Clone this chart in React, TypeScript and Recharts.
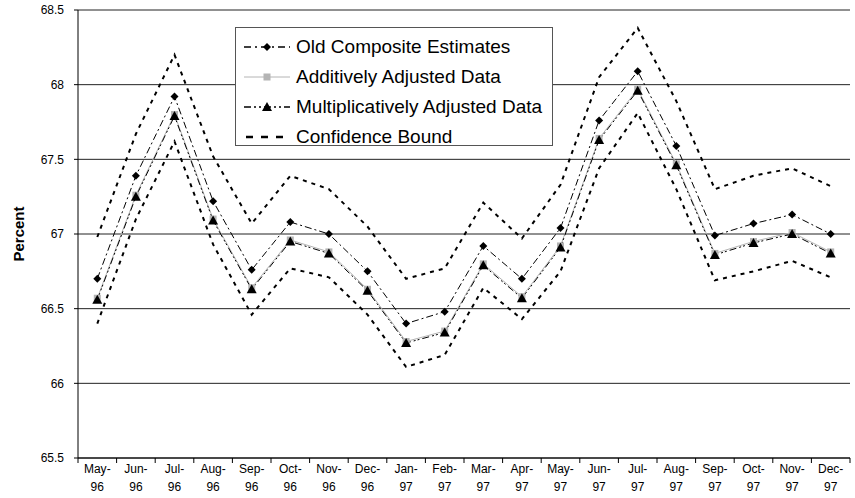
import { LineChart, Line, XAxis, YAxis, CartesianGrid } from "recharts";

const months = [
  "May-96", "Jun-96", "Jul-96", "Aug-96", "Sep-96", "Oct-96", "Nov-96", "Dec-96",
  "Jan-97", "Feb-97", "Mar-97", "Apr-97", "May-97", "Jun-97", "Jul-97", "Aug-97",
  "Sep-97", "Oct-97", "Nov-97", "Dec-97",
];

const oldComposite = [
  66.7, 67.39, 67.92, 67.22, 66.76, 67.08, 67.0, 66.75, 66.4, 66.48,
  66.92, 66.7, 67.04, 67.76, 68.09, 67.59, 66.99, 67.07, 67.13, 67.0,
];
const additive = [
  66.57, 67.26, 67.8, 67.1, 66.64, 66.96, 66.88, 66.63, 66.28, 66.35,
  66.8, 66.58, 66.92, 67.64, 67.97, 67.47, 66.87, 66.95, 67.01, 66.88,
];
const multiplicative = [
  66.56, 67.25, 67.79, 67.09, 66.63, 66.95, 66.87, 66.62, 66.27, 66.34,
  66.79, 66.57, 66.91, 67.63, 67.96, 67.46, 66.86, 66.94, 67.0, 66.87,
];
const upperBound = [
  66.98, 67.67, 68.2, 67.52, 67.07, 67.39, 67.3, 67.05, 66.7, 66.77,
  67.21, 66.97, 67.33, 68.05, 68.38, 67.89, 67.3, 67.39, 67.44, 67.32,
];
const lowerBound = [
  66.4, 67.1, 67.62, 66.93, 66.46, 66.77, 66.71, 66.46, 66.11, 66.19,
  66.64, 66.43, 66.75, 67.44, 67.81, 67.3, 66.69, 66.75, 66.82, 66.71,
];
const yTicks = [65.5, 66, 66.5, 67, 67.5, 68, 68.5];

const legendItems = [
  { name: "Old Composite Estimates", kind: "old" },
  { name: "Additively Adjusted Data", kind: "add" },
  { name: "Multiplicatively Adjusted Data", kind: "mult" },
  { name: "Confidence Bound", kind: "bound" },
];

const W = 855;
const H = 498;
const margin = { top: 10, right: 5, bottom: 0, left: 0 };
const Y_W = 78;
const X_H = 40;
const band = (W - margin.left - margin.right - Y_W) / months.length;
const font = "'Liberation Sans', Arial, Helvetica, sans-serif";

const data = months.map((month, i) => ({
  month,
  old: oldComposite[i],
  add: additive[i],
  mult: multiplicative[i],
  upper: upperBound[i],
  lower: lowerBound[i],
}));

const OLD_DASH = "7 3 2 3";
const MULT_DASH = "7 3 2 2 2 3";
const BOUND_DASH = "4 5";

const Diamond = ({ cx, cy }: any) => (
  <path d={`M${cx},${cy - 4}L${cx + 4},${cy}L${cx},${cy + 4}L${cx - 4},${cy}Z`} fill="#000" />
);
const Square = ({ cx, cy }: any) => (
  <rect x={cx - 3.5} y={cy - 3.5} width={7} height={7} fill="#b4b4b4" />
);
const Triangle = ({ cx, cy }: any) => (
  <path d={`M${cx},${cy - 5}L${cx + 5},${cy + 4}L${cx - 5},${cy + 4}Z`} fill="#000" />
);

const MonthTick = ({ x, y, payload, index }: any) => {
  const [mon, yr] = String(payload.value).split("-");
  const last = index === months.length - 1;
  return (
    <g>
      <line x1={x - band / 2} x2={x - band / 2} y1={y} y2={y + 5} stroke="#000" />
      {last && <line x1={x + band / 2} x2={x + band / 2} y1={y} y2={y + 5} stroke="#000" />}
      <text x={x} y={y + 15} textAnchor="middle" fontSize={12} fontFamily={font} fill="#000">
        {mon}-
      </text>
      <text x={x} y={y + 33} textAnchor="middle" fontSize={12} fontFamily={font} fill="#000">
        {yr}
      </text>
    </g>
  );
};

const Sample = ({ kind }: { kind: string }) => {
  if (kind === "old")
    return (
      <svg width={46} height={14}>
        <line x1={0} x2={46} y1={7} y2={7} stroke="#000" strokeWidth={1.5} strokeDasharray="7 4 2 4" />
        <Diamond cx={23} cy={7} />
      </svg>
    );
  if (kind === "add")
    return (
      <svg width={46} height={14}>
        <line x1={0} x2={46} y1={7} y2={7} stroke="#b4b4b4" strokeWidth={1} />
        <Square cx={23} cy={7} />
      </svg>
    );
  if (kind === "mult")
    return (
      <svg width={46} height={14}>
        <line x1={0} x2={46} y1={7} y2={7} stroke="#000" strokeWidth={1.5} strokeDasharray="7 3 2 3 2 3" />
        <Triangle cx={23} cy={7} />
      </svg>
    );
  return (
    <svg width={46} height={14}>
      <line x1={2} x2={46} y1={7} y2={7} stroke="#000" strokeWidth={2.5} strokeDasharray="7 8" />
    </svg>
  );
};

const ChartLegend = () => (
  <div
    style={{
      position: "absolute",
      left: 235,
      top: 27,
      width: 318,
      height: 119,
      boxSizing: "border-box",
      border: "1px solid #555",
      background: "#fff",
      padding: "4px 0 0 8px",
      fontFamily: font,
      fontSize: 19,
      color: "#000",
    }}
  >
    {legendItems.map((item) => (
      <div key={item.name} style={{ display: "flex", alignItems: "center", height: 30 }}>
        <Sample kind={item.kind} />
        <span style={{ marginLeft: 6, whiteSpace: "nowrap" }}>{item.name}</span>
      </div>
    ))}
  </div>
);

export default function App() {
  const midY = margin.top + (H - margin.top - X_H) / 2;
  return (
    <div style={{ position: "absolute", left: 0, top: 0, width: W, height: H, background: "#fff" }}>
      <LineChart width={W} height={H} data={data} margin={margin}>
        <CartesianGrid vertical={false} stroke="#222" />
        <XAxis
          dataKey="month"
          height={X_H}
          interval={0}
          padding={{ left: band / 2, right: band / 2 }}
          tickSize={0}
          tickMargin={0}
          tickLine={false}
          axisLine={{ stroke: "#000" }}
          tick={<MonthTick />}
        />
        <YAxis
          width={Y_W}
          domain={[65.5, 68.5]}
          ticks={yTicks}
          tickSize={4}
          tickMargin={10}
          axisLine={{ stroke: "#000" }}
          tickLine={{ stroke: "#000" }}
          tick={{ fill: "#000", fontSize: 12, fontFamily: font }}
          tickFormatter={(v: number) => String(v)}
          label={{
            content: () => (
              <text
                x={18}
                y={midY}
                transform={`rotate(-90 18 ${midY})`}
                textAnchor="middle"
                dominantBaseline="central"
                fontSize={15}
                fontWeight="bold"
                fontFamily={font}
                fill="#000"
              >
                Percent
              </text>
            ),
          }}
        />
        <Line
          dataKey="upper"
          stroke="#000"
          strokeWidth={2}
          strokeDasharray={BOUND_DASH}
          dot={false}
          isAnimationActive={false}
        />
        <Line
          dataKey="lower"
          stroke="#000"
          strokeWidth={2}
          strokeDasharray={BOUND_DASH}
          dot={false}
          isAnimationActive={false}
        />
        <Line
          dataKey="old"
          stroke="#000"
          strokeWidth={1}
          strokeDasharray={OLD_DASH}
          dot={(p: any) => <Diamond key={`o${p.index}`} cx={p.cx} cy={p.cy} />}
          isAnimationActive={false}
        />
        <Line
          dataKey="add"
          stroke="#b4b4b4"
          strokeWidth={1}
          dot={(p: any) => <Square key={`a${p.index}`} cx={p.cx} cy={p.cy} />}
          isAnimationActive={false}
        />
        <Line
          dataKey="mult"
          stroke="#000"
          strokeWidth={1}
          strokeDasharray={MULT_DASH}
          dot={(p: any) => <Triangle key={`m${p.index}`} cx={p.cx} cy={p.cy} />}
          isAnimationActive={false}
        />
      </LineChart>
      <ChartLegend />
    </div>
  );
}
